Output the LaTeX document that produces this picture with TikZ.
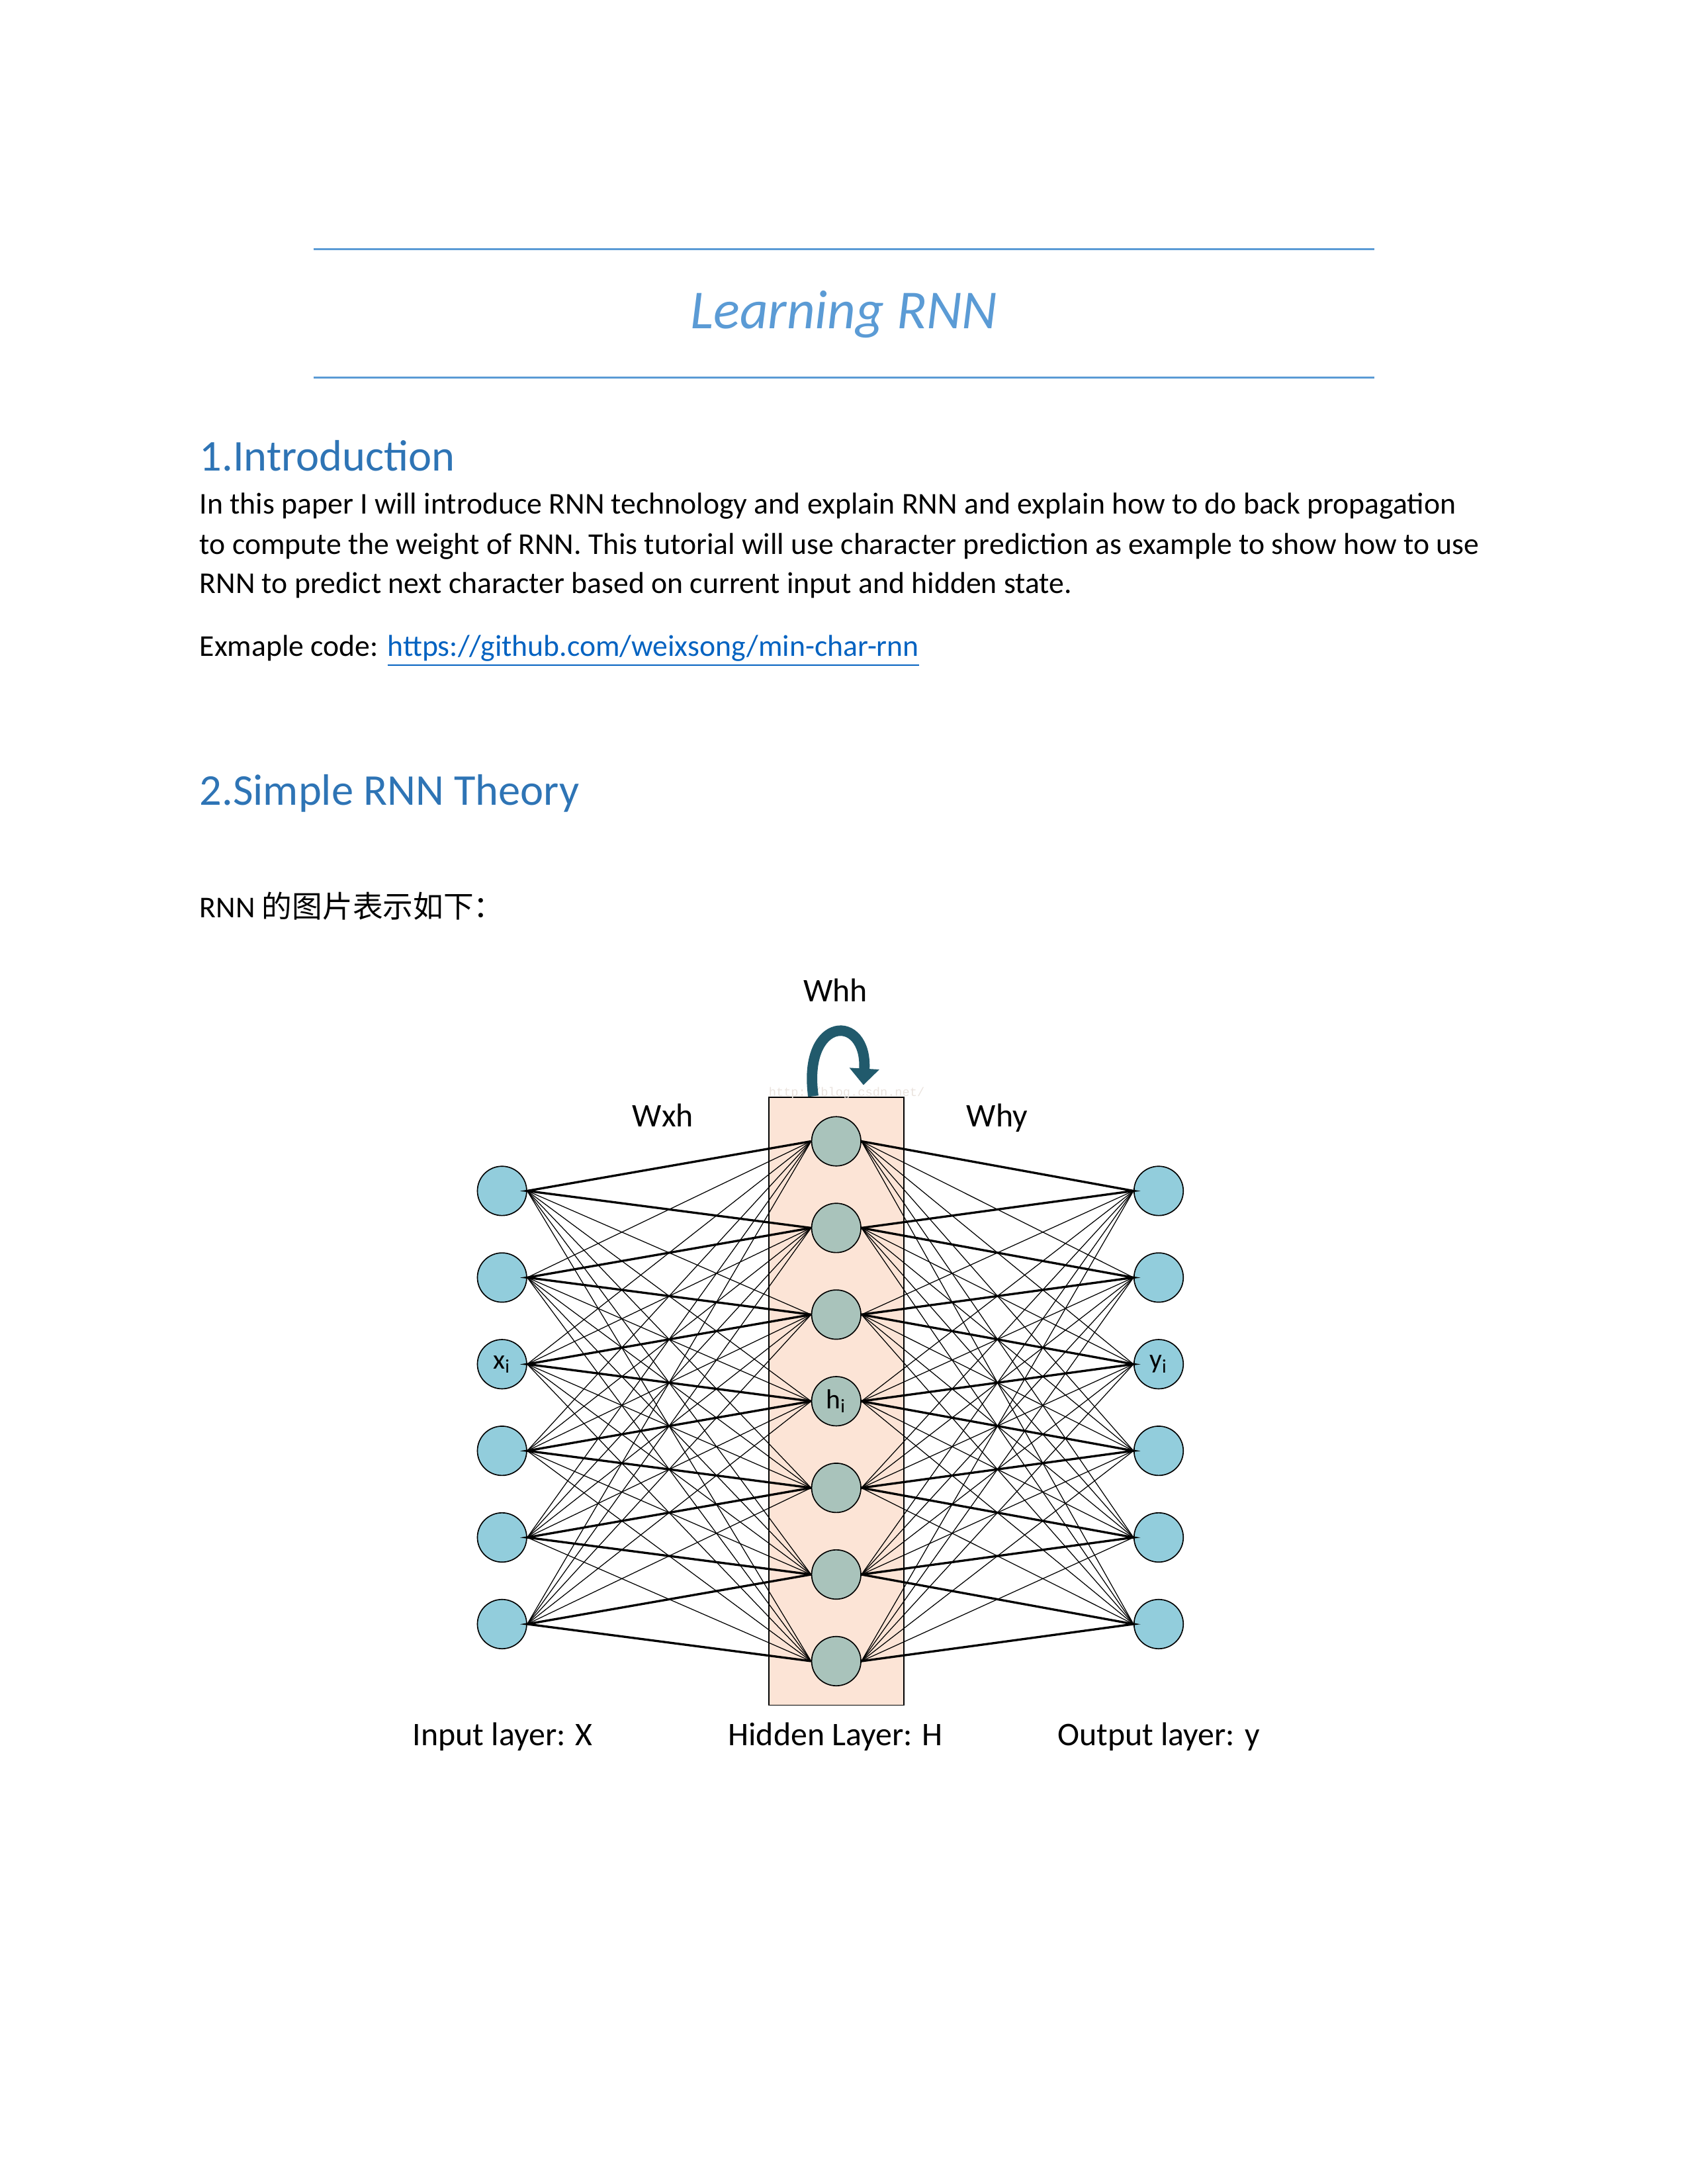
\documentclass[tikz,border=0pt]{standalone}
\usepackage{fontspec}
\setmainfont{Carlito}
\newfontfamily\cjkfont{Noto Sans CJK SC}
\newfontfamily\markfont{Liberation Mono}
\usetikzlibrary{arrows.meta}
\definecolor{rnnTitle}{HTML}{5B9BD5}
\definecolor{rnnHead}{HTML}{2E74B5}
\definecolor{rnnLink}{HTML}{0563C1}
\definecolor{rnnBlue}{HTML}{92CDDC}
\definecolor{rnnSage}{HTML}{A9C3BB}
\definecolor{rnnPeach}{HTML}{FCE4D6}
\definecolor{rnnTeal}{HTML}{215A6C}
\definecolor{rnnMark}{HTML}{EAE3DE}
\tikzset{
  rnn rule/.style={draw=rnnTitle, line width=0.6pt},
  rnn title/.style={anchor=base, inner sep=0pt, font=\fontsize{20}{24}\selectfont\itshape, text=rnnTitle},
  rnn heading/.style={anchor=base west, inner sep=0pt, font=\fontsize{16}{19}\selectfont, text=rnnHead},
  rnn body/.style={anchor=base west, inner sep=0pt, font=\fontsize{11}{13}\selectfont},
  rnn unit/.style={circle, draw=black, line width=0.4pt, fill=rnnBlue, minimum size=0.63cm, inner sep=0pt, font=\fontsize{9}{10}\selectfont},
  rnn hidden/.style={rnn unit, fill=rnnSage},
  rnn band/.style={draw=black, line width=0.4pt, fill=rnnPeach, minimum width=1.728cm, minimum height=7.77cm, inner sep=0pt},
  rnn thin/.style={draw=black, line width=0.3pt},
  rnn thick/.style={draw=black, line width=0.8pt},
  rnn loop/.style={draw=rnnTeal, line width=3.8pt, -{Triangle[width=0.37cm, length=0.21cm]}},
  rnn label/.style={anchor=base, inner sep=0pt, font=\fontsize{12}{14}\selectfont},
}

\begin{document}
\begin{tikzpicture}[x=0.017813cm, y=-0.017813cm]
  \useasboundingbox (0,0) rectangle (1212,1568);

  % Title between two rules
  \draw[rnn rule] (225,179) -- (987,179);
  \draw[rnn rule] (225,271) -- (987,271);
  \node[rnn title] (title) at (606,236) {Learning RNN};

  % Section 1
  \node[rnn heading] (intro) at (143,338) {1.Introduction};
  \node[rnn body] (introA) at (143,369) {In this paper I will introduce RNN technology and explain RNN and explain how to do back propagation};
  \node[rnn body] (introB) at (143,398) {to compute the weight of RNN. This tutorial will use character prediction as example to show how to use};
  \node[rnn body] (introC) at (143,426) {RNN to predict next character based on current input and hidden state.};
  \node[rnn body] (code) at (143,471) {Exmaple code: \textcolor{rnnLink}{\underline{https://github.com/weixsong/min-char-rnn}}};

  % Section 2
  \node[rnn heading] (theory) at (143,578) {2.Simple RNN Theory};
  \node[rnn body] (caption) at (143,659) {RNN {\cjkfont 的图片表示如下：}};

  % Hidden band and recurrent arrow
  \node[rnn band] (band) at (600.5,1006) {};
  \node[font=\markfont\fontsize{4.5}{5}\selectfont, text=rnnMark, inner sep=0pt] (mark) at (608,785) {http://blog.csdn.net/};
  \coordinate (loopA) at (584,787);
  \coordinate (loopB) at (620,779);
  \draw[rnn loop] (loopA) .. controls (576,729) and (623,727) .. (loopB);

  % Units
  \foreach \k in {0,...,5} {
    \node[rnn unit] (in\k) at (360.5,855+62.2*\k) {};
    \node[rnn unit] (out\k) at (832,855+62.2*\k) {};
  }
  \foreach \j in {0,...,6}
    \node[rnn hidden] (hid\j) at (600.5,819.4+62.2*\j) {};
  \node at (in2) {x\textsubscript{i}};
  \node at (hid3) {h\textsubscript{i}};
  \node at (out2) {y\textsubscript{i}};

  % Weights: every pair thin, the two nearest thick
  \foreach \k in {0,...,5} {
    \foreach \j in {0,...,6} {
      \draw[rnn thin] (in\k.east) -- (hid\j.west);
      \draw[rnn thin] (hid\j.east) -- (out\k.west);
    }
    \pgfmathtruncatemacro\n{\k+1}
    \draw[rnn thick] (hid\k.west) -- (in\k.east) -- (hid\n.west);
    \draw[rnn thick] (hid\k.east) -- (out\k.west) -- (hid\n.east);
  }

  % Labels
  \node[rnn label] (whh) at (600,719) {Whh};
  \node[rnn label] (wxh) at (476,809) {Wxh};
  \node[rnn label] (why) at (716,809) {Why};
  \node[rnn label] (inlab) at (361,1253) {Input layer: X};
  \node[rnn label] (hidlab) at (600,1253) {Hidden Layer: H};
  \node[rnn label] (outlab) at (832,1253) {Output layer: y};
\end{tikzpicture}
\end{document}
